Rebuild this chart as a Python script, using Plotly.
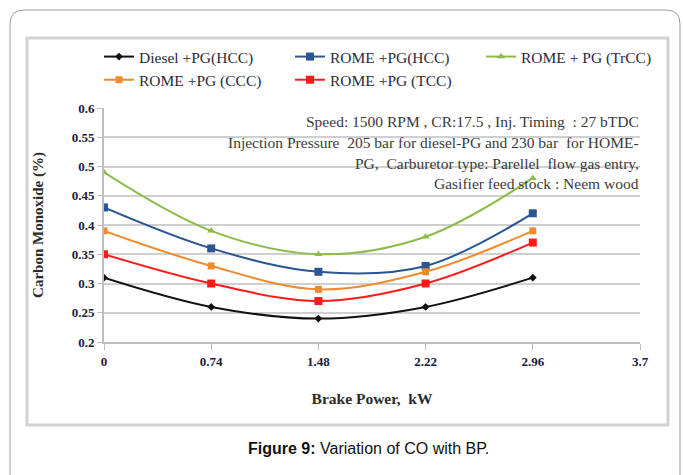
import plotly.graph_objects as go

# Brake power (kW) and CO emissions (%) for each fuel / carburettor combination
brake_power = [0, 0.74, 1.48, 2.22, 2.96]
x_ticks = [0, 0.74, 1.48, 2.22, 2.96, 3.7]
y_ticks = [0.2, 0.25, 0.3, 0.35, 0.4, 0.45, 0.5, 0.55, 0.6]

diesel_hcc = [0.31, 0.26, 0.24, 0.26, 0.31]
rome_hcc = [0.43, 0.36, 0.32, 0.33, 0.42]
rome_trcc = [0.49, 0.39, 0.35, 0.38, 0.48]
rome_ccc = [0.39, 0.33, 0.29, 0.32, 0.39]
rome_tcc = [0.35, 0.30, 0.27, 0.30, 0.37]

series = [
    ("Diesel +PG(HCC)", diesel_hcc, "#111111", "diamond", 6),
    ("ROME +PG(HCC)", rome_hcc, "#2A5694", "square", 8),
    ("ROME + PG (TrCC)", rome_trcc, "#8CBB4A", "triangle-up", 7),
    ("ROME +PG (CCC)", rome_ccc, "#F08A2C", "square", 7),
    ("ROME +PG (TCC)", rome_tcc, "#FF1A1A", "square", 8),
]

W, H = 683, 475
L, R, T, B = 104, 640, 108, 342  # plot area in pixels


def px(xp):
    return (xp - L) / (R - L)


def py(yp):
    return (B - yp) / (B - T)


fig = go.Figure()
for name, vals, color, sym, size in series:
    fig.add_trace(go.Scatter(
        x=brake_power, y=vals, name=name, mode="lines+markers",
        line=dict(color=color, width=2, shape="spline", smoothing=1.0),
        marker=dict(symbol=sym, size=size, color=color),
    ))

serif = "Liberation Serif, Times New Roman, serif"

notes = [
    "Speed: 1500 RPM , CR:17.5 , Inj. Timing  : 27 bTDC",
    "Injection Pressure  205 bar for diesel-PG and 230 bar  for HOME-",
    "PG,  Carburetor type: Parellel  flow gas entry,",
    "Gasifier feed stock : Neem wood",
]
note_y = [121, 142, 163, 183]
annotations = []
for txt, yy in zip(notes, note_y):
    annotations.append(dict(
        x=px(641), y=py(yy), xref="paper", yref="paper", text=txt,
        showarrow=False, xanchor="right", yanchor="middle",
        font=dict(family=serif, size=15.5, color="#3a3a3a"),
    ))
annotations.append(dict(
    x=px(368), y=py(448), xref="paper", yref="paper",
    text="<b>Figure 9:</b> Variation of CO with BP.",
    showarrow=False, xanchor="center", yanchor="middle",
    font=dict(family="Liberation Sans, Arial, sans-serif", size=16, color="#111111"),
))

shapes = [
    # outer page frame with rounded top corners
    dict(type="path", xref="paper", yref="paper",
         path=(f"M {px(10)} {py(490)} L {px(10)} {py(24)} "
               f"Q {px(10)} {py(10)} {px(24)} {py(10)} "
               f"L {px(666)} {py(10)} Q {px(680)} {py(10)} {px(680)} {py(24)} "
               f"L {px(680)} {py(490)}"),
         line=dict(color="#9a9a9a", width=1)),
    # chart box
    dict(type="rect", xref="paper", yref="paper",
         x0=px(27), x1=px(668), y0=py(425), y1=py(38),
         line=dict(color="#d2d2d2", width=3)),
]

fig.update_layout(
    width=W, height=H,
    margin=dict(l=L, r=W - R, t=T, b=H - B),
    paper_bgcolor="white", plot_bgcolor="white",
    font=dict(family=serif, color="#222233"),
    showlegend=True,
    legend=dict(
        orientation="h", x=px(99), y=py(40), xanchor="left", yanchor="top",
        font=dict(family=serif, size=15.5, color="#2b2b3b"),
        entrywidth=146, entrywidthmode="pixels", itemwidth=30,
        tracegroupgap=0, bgcolor="rgba(0,0,0,0)",
    ),
    xaxis=dict(
        range=[0, 3.7], tickvals=x_ticks, ticktext=[str(v) for v in x_ticks],
        showgrid=False, zeroline=False, showline=True, linecolor="#bdbdbd",
        linewidth=2, ticks="outside", ticklen=6, tickcolor="#bdbdbd",
        tickfont=dict(family=serif, size=13, color="#1b1b3b", weight="bold"),
        title=dict(text="<b>Brake Power,  kW</b>", standoff=26,
                   font=dict(family=serif, size=15.5, color="#2b2b2b")),
    ),
    yaxis=dict(
        range=[0.2, 0.6], tickvals=y_ticks,
        ticktext=[f"{v:g}" for v in y_ticks],
        showgrid=True, gridcolor="#cfcfcf", gridwidth=2, zeroline=False,
        showline=True, linecolor="#bdbdbd", linewidth=2,
        ticks="outside", ticklen=5, tickcolor="#bdbdbd",
        tickfont=dict(family=serif, size=13, color="#1b1b3b", weight="bold"),
        title=dict(text="<b>Carbon Monoxide (%)</b>", standoff=24,
                   font=dict(family=serif, size=15, color="#2b2b2b")),
    ),
    annotations=annotations,
    shapes=shapes,
)

fig.write_html("out.html")
